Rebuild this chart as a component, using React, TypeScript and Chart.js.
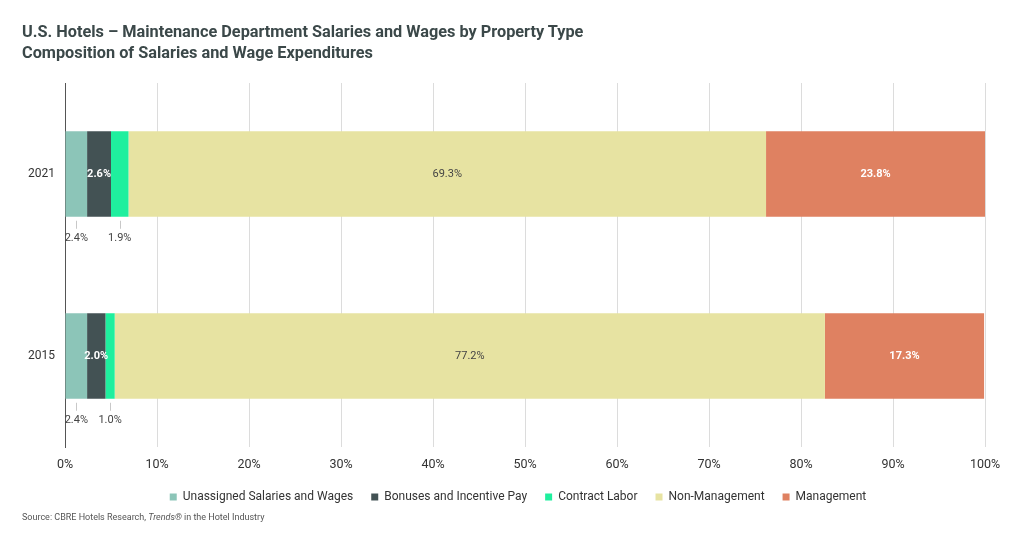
import React, { useEffect, useRef } from "react";
import { Chart, registerables } from "chart.js";

Chart.register(...registerables);

const categories = ["2021", "2015"];
const seriesNames = [
  "Unassigned Salaries and Wages",
  "Bonuses and Incentive Pay",
  "Contract Labor",
  "Non-Management",
  "Management",
];
const unassigned = [2.4, 2.4];
const bonuses = [2.6, 2.0];
const contractLabor = [1.9, 1.0];
const nonManagement = [69.3, 77.2];
const management = [23.8, 17.3];
const seriesColors = ["#8cc5b8", "#435254", "#1fef9e", "#e7e3a2", "#df8161"];
const labelModes = ["below", "white", "below", "dark", "white"];

const FONT = "Roboto, 'Noto Sans', sans-serif";

const labelPlugin = {
  id: "segmentLabels",
  afterDatasetsDraw(chart: any) {
    const ctx = chart.ctx;
    ctx.save();
    chart.data.datasets.forEach((ds: any, i: number) => {
      const meta = chart.getDatasetMeta(i);
      const mode = labelModes[i];
      meta.data.forEach((el: any, j: number) => {
        const p = el.getProps(["x", "y", "base", "height"], true);
        const cx = (p.x + p.base) / 2;
        const text = ds.data[j].toFixed(1) + "%";
        ctx.textAlign = "center";
        ctx.textBaseline = "middle";
        if (mode === "below") {
          const bottom = p.y + p.height / 2;
          ctx.strokeStyle = "#c8c8c8";
          ctx.lineWidth = 1;
          ctx.beginPath();
          ctx.moveTo(Math.round(cx) + 0.5, bottom + 4);
          ctx.lineTo(Math.round(cx) + 0.5, bottom + 12);
          ctx.stroke();
          ctx.fillStyle = "#444";
          ctx.font = "11px " + FONT;
          ctx.fillText(text, cx, bottom + 21);
        } else if (mode === "white") {
          ctx.fillStyle = "#ffffff";
          ctx.font = "bold 11px " + FONT;
          ctx.fillText(text, cx, p.y);
        } else {
          ctx.fillStyle = "#444";
          ctx.font = "11px " + FONT;
          ctx.fillText(text, cx, p.y);
        }
      });
    });
    ctx.restore();
  },
  afterDraw(chart: any) {
    const ctx = chart.ctx;
    const yScale = chart.scales.y;
    ctx.save();
    ctx.fillStyle = "#333";
    ctx.font = "12px " + FONT;
    ctx.textAlign = "right";
    ctx.textBaseline = "middle";
    yScale.ticks.forEach((_t: any, i: number) => {
      ctx.fillText(String(chart.data.labels[i]), chart.chartArea.left - 10, yScale.getPixelForTick(i));
    });
    ctx.restore();
  },
};

export default function App() {
  const ref = useRef<HTMLCanvasElement>(null);

  useEffect(() => {
    if (!ref.current) return;
    const values = [unassigned, bonuses, contractLabor, nonManagement, management];
    const chart = new Chart(ref.current, {
      type: "bar",
      data: {
        labels: categories,
        datasets: seriesNames.map((name, i) => ({
          label: name,
          data: values[i],
          backgroundColor: seriesColors[i],
          borderWidth: 0,
          categoryPercentage: 0.94,
          barPercentage: 0.5,
        })),
      },
      options: {
        indexAxis: "y",
        animation: false,
        responsive: false,
        maintainAspectRatio: false,
        layout: { padding: { top: 83, left: 51, right: 39, bottom: 27 } },
        scales: {
          x: {
            stacked: true,
            min: 0,
            max: 100,
            border: { display: false },
            grid: { color: "#dcdcdc", drawTicks: false, lineWidth: 1 },
            ticks: {
              stepSize: 10,
              padding: 10,
              color: "#333",
              font: { family: FONT, size: 12.5 },
              callback: (v: any) => v + "%",
            },
            afterFit: (s: any) => {
              s.height = 26;
            },
          },
          y: {
            stacked: true,
            border: { display: true, color: "#555", width: 1 },
            grid: { display: false, drawTicks: false },
            ticks: { display: false },
            afterFit: (s: any) => {
              s.width = 14;
            },
          },
        },
        plugins: {
          legend: {
            position: "bottom",
            labels: {
              boxWidth: 7,
              boxHeight: 7,
              padding: 18,
              color: "#333",
              font: { family: FONT, size: 12 },
            },
          },
          tooltip: { enabled: false },
          title: { display: false },
        },
      },
      plugins: [labelPlugin],
    });
    return () => chart.destroy();
  }, []);

  return (
    <div style={{ position: "absolute", left: 0, top: 0, width: 1024, height: 540, background: "#fff" }}>
      <canvas ref={ref} width={1024} height={540} style={{ position: "absolute", left: 0, top: 0 }} />
      <div
        style={{
          position: "absolute",
          left: 22,
          top: 21,
          fontFamily: FONT,
          fontWeight: 700,
          fontSize: 16.3,
          lineHeight: "21px",
          color: "#3b4849",
        }}
      >
        <div>U.S. Hotels – Maintenance Department Salaries and Wages by Property Type</div>
        <div>Composition of Salaries and Wage Expenditures</div>
      </div>
      <div
        style={{
          position: "absolute",
          left: 22,
          top: 512,
          fontFamily: FONT,
          fontSize: 9,
          color: "#555",
        }}
      >
        Source: CBRE Hotels Research, <i>Trends®</i> in the Hotel Industry
      </div>
    </div>
  );
}
